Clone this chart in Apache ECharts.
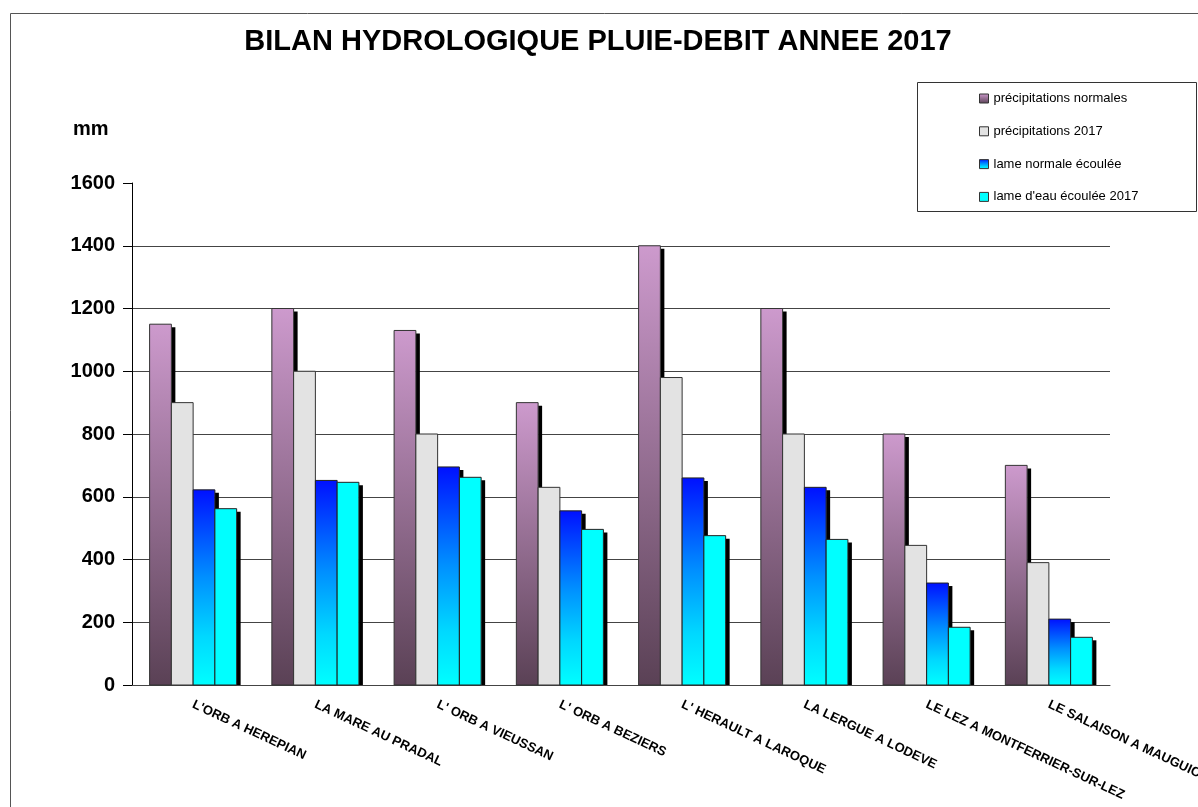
<!DOCTYPE html>
<html>
<head>
<meta charset="utf-8">
<script src="https://cdn.jsdelivr.net/npm/echarts@6/dist/echarts.min.js"></script>
<style>
html,body{margin:0;padding:0;background:#fff;}
#chart{width:1198px;height:807px;}
</style>
</head>
<body>
<div id="chart"></div>
<script>
const categories = ["L'ORB A HEREPIAN", "LA MARE AU PRADAL", "L' ORB A VIEUSSAN", "L' ORB A BEZIERS", "L' HERAULT A LAROQUE", "LA LERGUE A LODEVE", "LE LEZ A MONTFERRIER-SUR-LEZ", "LE SALAISON A MAUGUIO"];
const precipNormales = [1150, 1200, 1130, 900, 1400, 1200, 800, 700];
const precip2017 = [900, 1000, 800, 630, 980, 800, 445, 390];
const lameNormale = [622, 652, 695, 555, 660, 630, 325, 210];
const lame2017 = [562, 646, 662, 496, 476, 464, 184, 152];
const seriesNames = ["précipitations normales", "précipitations 2017", "lame normale écoulée", "lame d'eau écoulée 2017"];
const yTicks = [0, 200, 400, 600, 800, 1000, 1200, 1400, 1600];

const chart = echarts.init(document.getElementById('chart'), null, {renderer: 'canvas'});
const FONT = 'Liberation Sans, Arial, sans-serif';

function makeRender(slot, fill, border, withShadow) {
  return function (params, api) {
    const cat = api.value(0), val = api.value(1);
    const base = api.coord([cat, 0]);
    const top = api.coord([cat, val]);
    const band = api.size([1, 0])[0];
    const bw = band * 0.178;
    const left = base[0] - 2 * bw + slot * bw;
    const children = [];
    if (withShadow) {
      children.push({type: 'rect', shape: {x: left + bw, y: top[1] + 3, width: 4, height: Math.max(0, base[1] - top[1] - 3)}, style: {fill: '#000'}});
    }
    children.push({type: 'rect', shape: {x: left, y: top[1], width: bw, height: base[1] - top[1]}, style: {fill: fill, stroke: border, lineWidth: 1}});
    return {type: 'group', children: children};
  };
}
const purpleGrad = new echarts.graphic.LinearGradient(0, 0, 0, 1, [{offset: 0, color: '#CD9ACD'}, {offset: 1, color: '#5A4155'}]);
const blueGrad = new echarts.graphic.LinearGradient(0, 0, 0, 1, [{offset: 0, color: '#0010FF'}, {offset: 0.45, color: '#0090FF'}, {offset: 0.75, color: '#00D8FF'}, {offset: 1, color: '#00FFFF'}]);
function pairs(arr) { return arr.map((v, i) => [i, v]); }

const option = {
  backgroundColor: '#fff',
  animation: false,
  title: {
    text: 'BILAN HYDROLOGIQUE PLUIE-DEBIT ANNEE 2017',
    left: 593, top: 22, textAlign: 'center',
    textStyle: {fontFamily: FONT, fontWeight: 'bold', fontSize: 29, color: '#000'}
  },
  graphic: [
    {type: 'rect', shape: {x: 10.5, y: 13.5, width: 1400, height: 1000}, style: {fill: 'none', stroke: '#555', lineWidth: 1}, silent: true},
    {type: 'rect', shape: {x: 917.5, y: 82.5, width: 279, height: 129}, style: {fill: '#fff', stroke: '#333', lineWidth: 1}, silent: true, z: -1},
    {type: 'text', left: 73, top: 119, style: {text: 'mm', fontFamily: FONT, fontWeight: 'bold', fontSize: 20, fill: '#000'}}
  ],
  legend: {
    orient: 'vertical', left: 979, top: 92, padding: 0, itemWidth: 9, itemHeight: 9, itemGap: 19.8,
    icon: 'rect',
    data: seriesNames,
    textStyle: {fontFamily: FONT, fontSize: 13, color: '#000'},
    itemStyle: {borderColor: '#333', borderWidth: 1}
  },
  grid: {left: 132, right: 88, top: 183, bottom: 122, containLabel: false, outerBoundsMode: 'none'},
  xAxis: {
    type: 'category', data: categories,
    axisLine: {lineStyle: {color: '#444', width: 1}},
    axisTick: {show: false},
    axisLabel: {interval: 0, rotate: -25, margin: 19, fontFamily: FONT, fontWeight: 'bold', fontSize: 13, color: '#000'}
  },
  yAxis: {
    type: 'value', min: yTicks[0], max: yTicks[yTicks.length - 1], interval: 200,
    axisLine: {show: true, lineStyle: {color: '#000', width: 1}},
    axisTick: {show: true, length: 9, lineStyle: {color: '#000'}},
    axisLabel: {margin: 17, fontFamily: FONT, fontWeight: 'bold', fontSize: 20, color: '#000', formatter: v => String(v)},
    splitLine: {show: true, showMaxLine: false, lineStyle: {color: '#444', width: 1}}
  },
  series: [
    {name: seriesNames[0], type: 'custom', data: pairs(precipNormales), encode: {x: 0, y: 1}, renderItem: makeRender(0, purpleGrad, '#333', true), itemStyle: {color: purpleGrad}},
    {name: seriesNames[1], type: 'custom', data: pairs(precip2017), encode: {x: 0, y: 1}, renderItem: makeRender(1, '#E3E3E3', '#333', false), itemStyle: {color: '#E3E3E3'}},
    {name: seriesNames[2], type: 'custom', data: pairs(lameNormale), encode: {x: 0, y: 1}, renderItem: makeRender(2, blueGrad, '#222', true), itemStyle: {color: blueGrad}},
    {name: seriesNames[3], type: 'custom', data: pairs(lame2017), encode: {x: 0, y: 1}, renderItem: makeRender(3, '#00FFFF', '#222', true), itemStyle: {color: '#00FFFF'}}
  ]
};
chart.setOption(option);
</script>
</body>
</html>
